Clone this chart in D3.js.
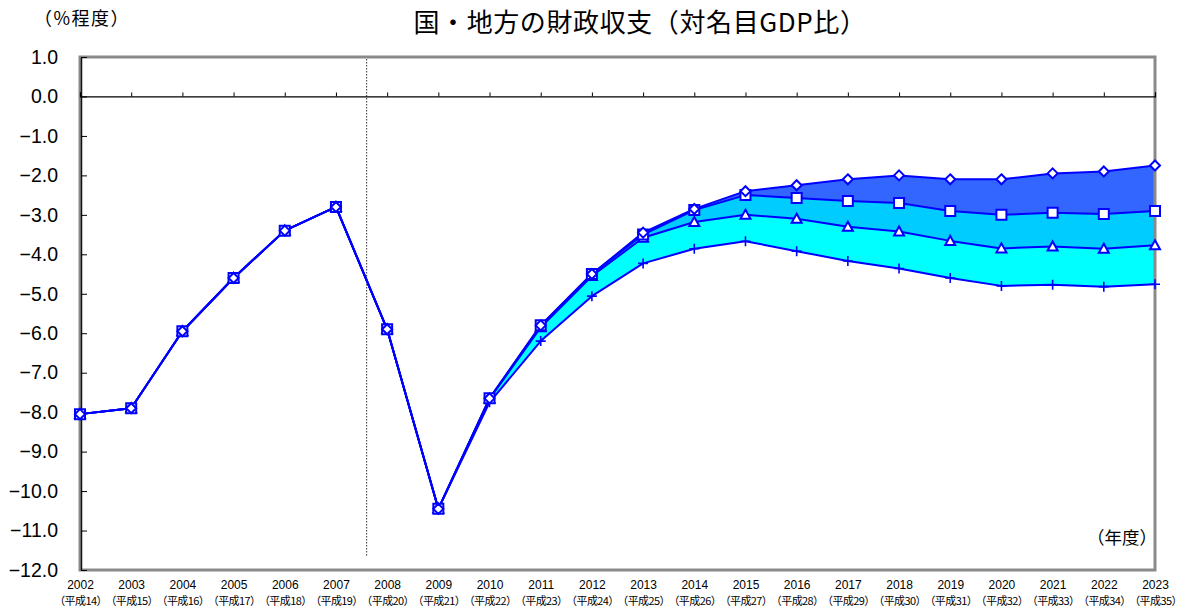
<!DOCTYPE html>
<html lang="ja">
<head>
<meta charset="utf-8">
<script src="https://cdn.jsdelivr.net/npm/d3@7/dist/d3.min.js"></script>
<style>
  html, body { margin: 0; padding: 0; background: #fff; }
  svg { display: block; }
  text { font-family: "Liberation Sans", Arial, sans-serif; fill: #000; }
  .jp { font-family: "Noto Sans CJK JP", "Noto Sans", sans-serif; }
</style>
</head>
<body>
<svg id="chart" width="1181" height="609"></svg>
<script>
// 年度と元号表記
const years = [2002, 2003, 2004, 2005, 2006, 2007, 2008, 2009, 2010, 2011, 2012,
               2013, 2014, 2015, 2016, 2017, 2018, 2019, 2020, 2021, 2022, 2023];
const heiseiLabels = ["（平成14）", "（平成15）", "（平成16）", "（平成17）", "（平成18）", "（平成19）",
                      "（平成20）", "（平成21）", "（平成22）", "（平成23）", "（平成24）", "（平成25）",
                      "（平成26）", "（平成27）", "（平成28）", "（平成29）", "（平成30）", "（平成31）",
                      "（平成32）", "（平成33）", "（平成34）", "（平成35）"];

// 財政収支（対名目GDP比、%程度）— 4ケース
const caseDiamond  = [-8.05, -7.9, -5.95, -4.6, -3.4, -2.8, -5.9, -10.45, -7.65, -5.8, -4.5,
                      -3.45, -2.85, -2.4, -2.25, -2.1, -2.0, -2.1, -2.1, -1.95, -1.9, -1.75];
const caseSquare   = [-8.05, -7.9, -5.95, -4.6, -3.4, -2.8, -5.9, -10.45, -7.65, -5.8, -4.5,
                      -3.5, -2.88, -2.5, -2.57, -2.65, -2.7, -2.9, -3.0, -2.95, -2.98, -2.9];
const caseTriangle = [-8.05, -7.9, -5.95, -4.6, -3.4, -2.8, -5.9, -10.45, -7.66, -5.85, -4.55,
                      -3.58, -3.18, -3.0, -3.1, -3.3, -3.42, -3.66, -3.85, -3.8, -3.86, -3.77];
const caseCross    = [-8.05, -7.9, -5.95, -4.6, -3.4, -2.8, -5.9, -10.45, -7.75, -6.2, -5.06,
                      -4.23, -3.86, -3.67, -3.92, -4.17, -4.36, -4.6, -4.8, -4.77, -4.82, -4.76];

// Y軸目盛
const yTicks = [1, 0, -1, -2, -3, -4, -5, -6, -7, -8, -9, -10, -11, -12];
// 見通し期間の区切り（年度位置）
const dividerYear = 2007.6;

const svg = d3.select("#chart");
const plot = { left: 80, right: 1155, top: 57, bottom: 570 };

const x = d3.scaleLinear()
  .domain([years[0], years[years.length - 1]])
  .range([plot.left, plot.right]);
const y = d3.scaleLinear()
  .domain([-12, 1])
  .range([plot.bottom, plot.top]);

// Title and unit labels
svg.append("text").attr("class", "jp")
  .attr("x", 640).attr("y", 32)
  .attr("text-anchor", "middle")
  .attr("font-size", 26)
  .attr("letter-spacing", 0.6)
  .text("国・地方の財政収支（対名目GDP比）");
svg.append("text").attr("class", "jp")
  .attr("x", 34).attr("y", 25)
  .attr("font-size", 18)
  .attr("letter-spacing", 1.5)
  .text("（%程度）");
svg.append("text").attr("class", "jp")
  .attr("x", 1157).attr("y", 544)
  .attr("text-anchor", "end")
  .attr("font-size", 17.5)
  .text("（年度）");

// Bands between the cases
const bands = [
  { upper: caseDiamond,  lower: caseSquare,   color: "#3366FF" },
  { upper: caseSquare,   lower: caseTriangle, color: "#00CCFF" },
  { upper: caseTriangle, lower: caseCross,    color: "#00FFFF" }
];
const band = d3.area()
  .x((d, i) => x(years[i]))
  .y0(d => y(d[1]))
  .y1(d => y(d[0]));
bands.forEach(b => {
  svg.append("path")
    .datum(b.upper.map((v, i) => [v, b.lower[i]]))
    .attr("fill", b.color)
    .attr("d", band);
});

// Plot frame
svg.append("rect")
  .attr("x", plot.left).attr("y", plot.top)
  .attr("width", plot.right - plot.left)
  .attr("height", plot.bottom - plot.top)
  .attr("fill", "none")
  .attr("stroke", "#8a8a8a")
  .attr("stroke-width", 3);

// Divider line between actual and projected years
svg.append("line")
  .attr("x1", x(dividerYear)).attr("x2", x(dividerYear))
  .attr("y1", plot.top + 2).attr("y2", 557)
  .attr("stroke", "#333")
  .attr("stroke-width", 1)
  .attr("stroke-dasharray", "1.5,1.5");

// Zero line with year ticks
svg.append("g")
  .attr("transform", `translate(0,${y(0)})`)
  .call(d3.axisTop(x).tickValues(years).tickSize(4).tickFormat(""))
  .call(g => g.select(".domain").attr("stroke", "#000").attr("stroke-width", 1.2))
  .call(g => g.selectAll(".tick line").attr("stroke", "#000"));

// Y axis
svg.append("g")
  .attr("transform", `translate(${plot.left + 1},0)`)
  .call(d3.axisLeft(y).tickValues(yTicks).tickSizeInner(-6).tickSizeOuter(0)
    .tickPadding(23).tickFormat(d3.format(".1f")))
  .call(g => g.select(".domain").attr("stroke", "#111").attr("stroke-width", 1.5))
  .call(g => g.selectAll(".tick line").attr("stroke", "#000"))
  .call(g => g.selectAll(".tick text")
    .attr("font-size", 19.5)
    .attr("font-family", "Liberation Sans, Arial, sans-serif"));

// X axis labels (year + Heisei)
const xAxis = svg.append("g")
  .attr("transform", `translate(0,${plot.bottom})`)
  .call(d3.axisBottom(x).tickValues(years).tickSize(0).tickPadding(0).tickFormat(""));
xAxis.select(".domain").remove();
xAxis.selectAll(".tick text").remove();
xAxis.selectAll(".tick").each(function (d, i) {
  const t = d3.select(this);
  t.append("text")
    .attr("y", 19).attr("text-anchor", "middle")
    .attr("font-size", 12)
    .attr("font-family", "Liberation Sans, Arial, sans-serif")
    .text(years[i]);
  t.append("text").attr("class", "jp")
    .attr("y", 35).attr("text-anchor", "middle")
    .attr("font-size", 11)
    .attr("letter-spacing", -0.6)
    .text(heiseiLabels[i]);
});

// Lines and markers (drawn bottom case first so the top case sits above)
const blue = "#0000FF";
const line = d3.line().x((d, i) => x(years[i])).y(d => y(d));
const series = [
  { values: caseCross,    marker: "cross" },
  { values: caseTriangle, marker: "triangle" },
  { values: caseSquare,   marker: "square" },
  { values: caseDiamond,  marker: "diamond" }
];
series.forEach(s => {
  svg.append("path")
    .datum(s.values)
    .attr("fill", "none")
    .attr("stroke", blue)
    .attr("stroke-width", 2)
    .attr("stroke-linejoin", "round")
    .attr("d", line);
});
const markerPaths = {
  square:   "M-5,-5H5V5H-5Z",
  diamond:  "M0,-5L5,0L0,5L-5,0Z",
  triangle: "M0,-5L5,4L-5,4Z",
  cross:    "M-5,0H5M0,-5V5"
};
series.forEach(s => {
  svg.append("g").selectAll("path")
    .data(s.values)
    .join("path")
    .attr("transform", (v, i) => `translate(${x(years[i])},${y(v)})`)
    .attr("d", markerPaths[s.marker])
    .attr("fill", s.marker === "cross" ? "none" : "#fff")
    .attr("stroke", blue)
    .attr("stroke-width", s.marker === "cross" ? 1.6 : 2);
});
</script>
</body>
</html>
